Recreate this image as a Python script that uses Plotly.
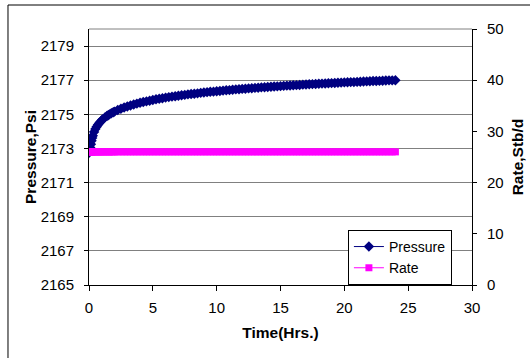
import plotly.graph_objects as go

time_hrs = [0, 0.05, 0.1, 0.15, 0.2, 0.25, 0.3, 0.4, 0.5, 0.6, 0.7, 0.8, 0.9, 1.0, 1.1,
            1.25, 1.4, 1.5, 1.6, 1.75, 1.9,
            2.0, 2.25, 2.5, 2.75, 3.0, 3.25, 3.5, 3.75, 4.0, 4.25, 4.5, 4.75,
            5.0, 5.25, 5.5, 5.75, 6.0, 6.25, 6.5, 6.75, 7.0, 7.25, 7.5, 7.75,
            8.0, 8.25, 8.5, 8.75, 9.0, 9.25, 9.5, 9.75, 10.0, 10.25, 10.5, 10.75,
            11.0, 11.25, 11.5, 11.75, 12.0, 12.25, 12.5, 12.75, 13.0, 13.25, 13.5, 13.75,
            14.0, 14.25, 14.5, 14.75, 15.0, 15.25, 15.5, 15.75, 16.0, 16.25, 16.5, 16.75,
            17.0, 17.25, 17.5, 17.75, 18.0, 18.25, 18.5, 18.75, 19.0, 19.25, 19.5, 19.75,
            20.0, 20.25, 20.5, 20.75, 21.0, 21.25, 21.5, 21.75, 22.0, 22.25, 22.5, 22.75,
            23.0, 23.25, 23.5, 23.75, 24.0]
pressure_psi = [2172.75, 2172.90, 2173.05, 2173.25, 2173.45, 2173.61, 2173.75, 2173.97,
                2174.14, 2174.27, 2174.39, 2174.48, 2174.57, 2174.65, 2174.72,
                2174.82, 2174.90, 2174.95, 2175.00, 2175.06, 2175.12,
                2175.16, 2175.25, 2175.33, 2175.40, 2175.46, 2175.52, 2175.58, 2175.63,
                2175.68, 2175.72, 2175.76, 2175.80,
                2175.84, 2175.88, 2175.91, 2175.94, 2175.98, 2176.01, 2176.04, 2176.06,
                2176.09, 2176.12, 2176.14, 2176.17,
                2176.19, 2176.21, 2176.23, 2176.26, 2176.28, 2176.30, 2176.32, 2176.33,
                2176.35, 2176.37, 2176.39, 2176.41,
                2176.42, 2176.44, 2176.46, 2176.47, 2176.49, 2176.50, 2176.52, 2176.53,
                2176.55, 2176.56, 2176.58, 2176.59,
                2176.60, 2176.62, 2176.63, 2176.64, 2176.65, 2176.67, 2176.68, 2176.69,
                2176.70, 2176.71, 2176.72, 2176.74,
                2176.75, 2176.76, 2176.77, 2176.78, 2176.79, 2176.80, 2176.81, 2176.82,
                2176.83, 2176.84, 2176.85, 2176.86,
                2176.87, 2176.88, 2176.89, 2176.89, 2176.90, 2176.91, 2176.92, 2176.93,
                2176.94, 2176.95, 2176.95, 2176.96,
                2176.97, 2176.98, 2176.99, 2176.99, 2177.00]
rate_stbd = [26] * len(time_hrs)

FONT = "Liberation Sans, Arial, sans-serif"
TICK = dict(family=FONT, size=15, color="black")
TITLE = dict(family=FONT, size=15.5, color="black")

fig = go.Figure()
fig.add_trace(go.Scatter(
    x=time_hrs, y=pressure_psi, name="Pressure", mode="lines+markers",
    line=dict(color="#000080", width=1),
    marker=dict(symbol="diamond", size=8, color="#000080"),
    yaxis="y"))
fig.add_trace(go.Scatter(
    x=time_hrs, y=rate_stbd, name="Rate", mode="lines+markers",
    line=dict(color="#FF00FF", width=1),
    marker=dict(symbol="square", size=7, color="#FF00FF"),
    yaxis="y2"))

fig.update_layout(
    width=530, height=358,
    margin=dict(l=89, r=58, t=29, b=73, autoexpand=False),
    paper_bgcolor="white", plot_bgcolor="white",
    font=dict(family=FONT, size=14, color="black"),
    showlegend=True,
    legend=dict(x=0.676, y=0.215, xanchor="left", yanchor="top",
                bordercolor="black", borderwidth=1, bgcolor="white",
                font=dict(family=FONT, size=14), tracegroupgap=0),
    xaxis=dict(range=[0, 30], tick0=0, dtick=5, showgrid=False, zeroline=False,
               showline=True, linecolor="black", linewidth=1, automargin=False,
               ticks="outside", ticklen=5, tickcolor="black", tickfont=TICK,
               ticklabelstandoff=4,
               title=dict(text="<b>Time(Hrs.)</b>", font=TITLE, standoff=12)),
    yaxis=dict(range=[2165, 2180], tick0=2165, dtick=2, showgrid=True,
               gridcolor="#808080", gridwidth=1, zeroline=False,
               showline=True, linecolor="black", linewidth=1, automargin=False,
               ticks="outside", ticklen=4, tickcolor="black", tickfont=TICK,
               ticklabelstandoff=7,
               title=dict(text="<b>Pressure,Psi</b>", font=TITLE, standoff=0)),
    yaxis2=dict(range=[0, 50], tick0=0, dtick=10, overlaying="y", side="right",
                showgrid=False, zeroline=False, automargin=False,
                showline=True, linecolor="black", linewidth=1,
                ticks="outside", ticklen=4, tickcolor="black", tickfont=TICK,
                ticklabelstandoff=7,
                title=dict(text="<b>Rate,Stb/d</b>", font=TITLE, standoff=9)),
    shapes=[
        dict(type="line", xref="paper", yref="paper", x0=0, x1=1, y0=1, y1=1,
             line=dict(color="#808080", width=1), layer="below"),
        dict(type="rect", xref="paper", yref="paper", x0=-0.2115, x1=1.3,
             y0=-0.4, y1=1.09375, line=dict(color="black", width=1),
             fillcolor="rgba(0,0,0,0)", layer="below"),
    ],
)

fig.write_html("out.html", config={"displayModeBar": False},
               post_script="document.body.style.margin='0';")
